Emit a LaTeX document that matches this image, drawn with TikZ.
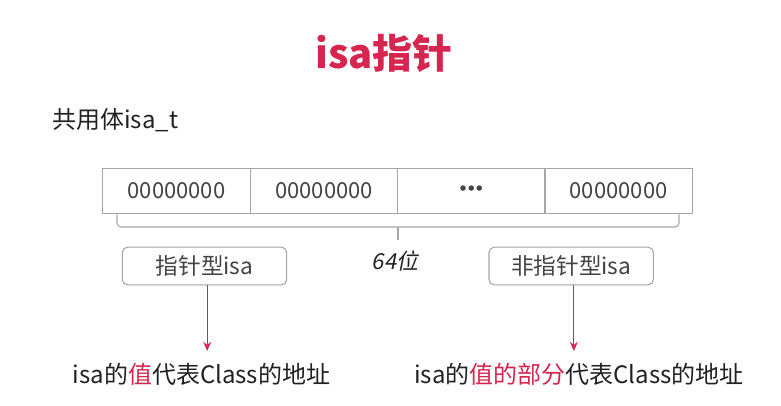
\documentclass[tikz,border=0pt]{standalone}
\usepackage{fontspec}
\setmainfont[AutoFakeSlant=0.2]{Noto Sans CJK SC}
\newfontfamily\dotfont{DejaVu Sans}
\usetikzlibrary{arrows.meta}
\definecolor{accent}{HTML}{D6264F}
\definecolor{linegray}{HTML}{A6A6A6}
\definecolor{txtgray}{HTML}{444444}
\definecolor{txtdark}{HTML}{222222}
\tikzset{
  cell/.style={draw=linegray, line width=0.8pt, minimum width=110.6pt, minimum height=34.3pt, inner sep=0pt, text=txtgray, font=\fontsize{16.5pt}{18pt}\selectfont},
  pill/.style={draw=linegray, line width=0.8pt, rounded corners=4pt, minimum width=123.3pt, minimum height=28.3pt, inner sep=0pt, text=txtgray, font=\fontsize{17pt}{19pt}\selectfont},
  bodytext/.style={inner sep=0pt, text=txtdark, font=\fontsize{18pt}{20pt}\selectfont},
  arr/.style={draw=accent, line width=0.6pt, -{Stealth[length=7pt,width=6pt,inset=2.5pt]}},
  bracepath/.style={draw=linegray, line width=0.8pt, rounded corners=3pt}
}
\begin{document}
\begin{tikzpicture}[x=0.75pt,y=-0.75pt]
\useasboundingbox[fill=white] (0,0) rectangle (781,406);
\node[inner sep=0pt, text=accent, font=\fontsize{30pt}{32pt}\selectfont\bfseries] (title) at (384,53) {isa指针};
\node[bodytext, anchor=west] (union) at (52,120) {共用体isa\_t};
\node[cell] (c1) at (176.5,191) {00000000};
\node[cell] (c2) at (324,191) {00000000};
\node[cell] (c3) at (471.3,191) {{\dotfont\fontsize{14pt}{16pt}\selectfont •\kern-2.2pt•\kern-2.2pt•}};
\node[cell] (c4) at (618.6,191) {00000000};
\coordinate (bl) at (117,227);
\coordinate (br) at (679,227);
\coordinate (bm) at (398,227);
\coordinate (btip) at (398,240);
\draw[bracepath] (bl |- c1.south) -- (bl) -- (br) -- (br |- c4.south);
\draw[draw=linegray, line width=0.8pt] (bm) -- (btip);
\node[inner sep=0pt, text=txtdark, font=\fontsize{16.5pt}{18pt}\selectfont\itshape] (bits) at (395,261) {64位};
\node[pill] (p1) at (204.5,266) {指针型isa};
\node[pill] (p2) at (571.2,266) {非指针型isa};
\node[bodytext] (t1) at (201.5,374) {isa的\textcolor{accent}{值}代表Class的地址};
\node[bodytext] (t2) at (579,374) {isa的\textcolor{accent}{值的部分}代表Class的地址};
\draw[arr] ([xshift=2pt]p1.south) -- ([xshift=2pt]p1.south |- 0,351);
\draw[arr] ([xshift=2pt]p2.south) -- ([xshift=2pt]p2.south |- 0,351);
\end{tikzpicture}
\end{document}
